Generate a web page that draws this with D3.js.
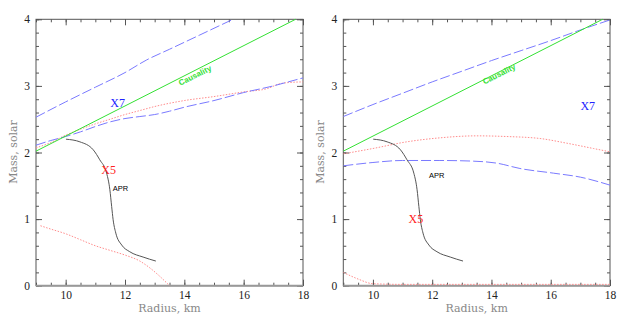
<!DOCTYPE html>
<html>
<head>
<meta charset="utf-8">
<script src="https://cdn.jsdelivr.net/npm/d3@7"></script>
<style>
  body { margin: 0; background: #fff; }
  svg { display: block; }
</style>
</head>
<body>
<div class="graphics"></div>
<script>
// tick labels
var radiusTicks = [10, 12, 14, 16, 18];
var massTicks = [0, 1, 2, 3, 4];

// curves shared by both panels  [radius km, mass solar]
var causality = [[9, 2.02], [17.75, 4.0]];
var apr = [[10.01, 2.2], [10.48, 2.16], [10.93, 2.04], [11.15, 1.89], [11.38, 1.69],
           [11.49, 1.44], [11.55, 1.19], [11.6, 0.99], [11.69, 0.79], [11.89, 0.61],
           [12.16, 0.51], [12.61, 0.43], [13.04, 0.37]];

// left panel
var leftBlueUpper = [[9, 2.53], [10, 2.76], [11, 2.98], [12, 3.2], [12.73, 3.39],
                     [13.5, 3.55], [14.5, 3.76], [15.64, 4.0]];
var leftBlueLower = [[9, 2.11], [9.5, 2.18], [10, 2.24], [10.5, 2.31], [11, 2.39], [11.5, 2.46],
                     [12, 2.51], [12.5, 2.54], [13, 2.57], [13.5, 2.62], [14, 2.68], [15, 2.78],
                     [16, 2.9], [17, 3.0], [17.5, 3.06], [18, 3.12]];
var leftRedUpper = [[9, 2.07], [9.5, 2.15], [10, 2.26], [10.5, 2.35], [11, 2.43], [11.5, 2.5],
                    [12, 2.57], [12.5, 2.63], [13, 2.69], [14, 2.78], [15, 2.84], [16, 2.91],
                    [16.8, 2.96], [17.2, 3.03], [17.5, 3.05], [18, 3.06]];
var leftRedLower = [[9.15, 0.9], [9.5, 0.85], [10, 0.78], [10.5, 0.69], [11, 0.6], [11.5, 0.53],
                    [12, 0.46], [12.5, 0.37], [12.8, 0.28], [13.1, 0.17], [13.5, 0]];

// right panel
var rightBlueUpper = [[9, 2.54], [10, 2.72], [11, 2.89], [12, 3.06], [13, 3.22], [14, 3.38],
                      [15, 3.53], [16, 3.68], [17, 3.84], [18, 3.99]];
var rightBlueLower = [[9, 1.8], [10, 1.85], [11, 1.88], [12.26, 1.88], [13.39, 1.87], [14.18, 1.84],
                      [14.96, 1.76], [16.09, 1.69], [17, 1.63], [18, 1.51]];
var rightRedUpper = [[9, 1.98], [10, 2.06], [11.14, 2.16], [12.26, 2.22], [13.5, 2.25], [14.51, 2.24],
                     [15.64, 2.21], [16.54, 2.14], [17.44, 2.06], [18, 2.01]];
var rightRedLower = [[9, 0.2], [9.5, 0.1], [10, 0.03], [11, 0.02], [12, 0.02], [14, 0.02],
                     [16, 0.02], [18, 0.02]];

var W = 629, H = 322;
var svg = d3.select('.graphics').append('svg')
    .attr('width', W).attr('height', H);

function panel(id, left, right, curves, labels){
    var top = 19.3, bottom = 285.7;
    var x = d3.scaleLinear().domain([9, 18]).range([left, right]);
    var y = d3.scaleLinear().domain([0, 4]).range([bottom, top]);
    var g = svg.append('g').attr('class', id);

    // minor ticks
    var minorX = d3.range(9, 18.01, 0.5), minorY = d3.range(0, 4.01, 0.2);
    function style(a){
        a.select('.domain').remove();
        a.selectAll('line').attr('stroke', '#555');
        a.selectAll('text').attr('font-family', 'Liberation Serif, serif')
            .attr('font-size', 11.5).attr('fill', '#222');
    }
    var fmt = function(d){ return d; };
    g.append('g').attr('transform', 'translate(0,' + bottom + ')')
        .call(d3.axisBottom(x).tickValues(minorX).tickSize(-3).tickFormat('')).call(style);
    g.append('g').attr('transform', 'translate(0,' + top + ')')
        .call(d3.axisTop(x).tickValues(minorX).tickSize(-3).tickFormat('')).call(style);
    g.append('g').attr('transform', 'translate(' + left + ',0)')
        .call(d3.axisLeft(y).tickValues(minorY).tickSize(-3).tickFormat('')).call(style);
    g.append('g').attr('transform', 'translate(' + right + ',0)')
        .call(d3.axisRight(y).tickValues(minorY).tickSize(-3).tickFormat('')).call(style);

    // major ticks with labels
    g.append('g').attr('transform', 'translate(0,' + bottom + ')')
        .call(d3.axisBottom(x).tickValues(radiusTicks).tickSize(-6).tickPadding(5).tickFormat(fmt)).call(style);
    g.append('g').attr('transform', 'translate(0,' + top + ')')
        .call(d3.axisTop(x).tickValues(radiusTicks).tickSize(-6).tickFormat('')).call(style);
    g.append('g').attr('transform', 'translate(' + left + ',0)')
        .call(d3.axisLeft(y).tickValues(massTicks).tickSize(-6).tickPadding(6).tickFormat(fmt)).call(style);
    g.append('g').attr('transform', 'translate(' + right + ',0)')
        .call(d3.axisRight(y).tickValues(massTicks).tickSize(-6).tickFormat('')).call(style);

    // frame
    g.append('rect').attr('x', left).attr('y', top)
        .attr('width', right - left).attr('height', bottom - top)
        .attr('fill', 'none').attr('stroke', '#555').attr('stroke-width', 1);
    g.append('line').attr('x1', left).attr('x2', right).attr('y1', bottom).attr('y2', bottom)
        .attr('stroke', '#999').attr('stroke-width', 2);

    // axis titles
    g.append('text').attr('x', (left + right) / 2).attr('y', 312)
        .attr('text-anchor', 'middle').attr('font-family', 'DejaVu Serif, serif')
        .attr('font-size', 11).attr('fill', '#888').text('Radius, km');
    g.append('text').attr('transform', 'translate(' + (left - 19) + ',152) rotate(-90)')
        .attr('text-anchor', 'middle').attr('font-family', 'DejaVu Serif, serif')
        .attr('font-size', 11).attr('fill', '#888').text('Mass, solar');

    // curves
    g.append('clipPath').attr('id', 'clip-' + id).append('rect')
        .attr('x', left).attr('y', top - 1).attr('width', right - left).attr('height', bottom - top + 2);
    var line = d3.line().x(function(d){ return x(d[0]); }).y(function(d){ return y(d[1]); })
        .curve(d3.curveMonotoneX);
    var cg = g.append('g').attr('clip-path', 'url(#clip-' + id + ')');
    curves.forEach(function(c){
        cg.append('path').attr('d', line(c.data)).attr('fill', 'none')
            .attr('stroke', c.color).attr('stroke-width', 1)
            .attr('stroke-dasharray', c.dash || null);
    });

    // labels
    labels.forEach(function(l){
        var t = g.append('text').attr('text-anchor', 'middle')
            .attr('font-family', l.font).attr('font-size', l.size)
            .attr('font-weight', l.weight || 'normal').attr('fill', l.color).text(l.text);
        if (l.rotate) {
            t.attr('transform', 'translate(' + x(l.r) + ',' + y(l.m) + ') rotate(' + l.rotate + ')');
        } else {
            t.attr('x', x(l.r)).attr('y', y(l.m));
        }
    });
}

var blue = '#7a7aff', red = '#ff8c8c', green = '#33e033', black = '#555';
var serif = 'Liberation Serif, serif', sans = 'Liberation Sans, Arial, sans-serif';

panel('left', 36, 303, [
    {data: leftRedUpper, color: red, dash: '1.5,1.5'},
    {data: leftRedLower, color: red, dash: '1.5,1.5'},
    {data: leftBlueUpper, color: blue, dash: '10,3'},
    {data: leftBlueLower, color: blue, dash: '10,3'},
    {data: causality, color: green},
    {data: apr, color: black}
], [
    {text: 'X7', r: 11.75, m: 2.68, color: '#2222ff', font: serif, size: 12},
    {text: 'X5', r: 11.45, m: 1.68, color: '#ff2222', font: serif, size: 12},
    {text: 'APR', r: 11.85, m: 1.42, color: '#000', font: sans, size: 7.5},
    {text: 'Causality', r: 14.4, m: 3.12, color: green, font: sans, size: 8, weight: 'bold', rotate: -26.5}
]);

panel('right', 343.3, 610, [
    {data: rightRedUpper, color: red, dash: '1.5,1.5'},
    {data: rightRedLower, color: red, dash: '1.5,1.5'},
    {data: rightBlueUpper, color: blue, dash: '10,3'},
    {data: rightBlueLower, color: blue, dash: '10,3'},
    {data: causality, color: green},
    {data: apr, color: black}
], [
    {text: 'X7', r: 17.25, m: 2.64, color: '#2222ff', font: serif, size: 12},
    {text: 'X5', r: 11.45, m: 0.94, color: '#ff2222', font: serif, size: 12},
    {text: 'APR', r: 12.15, m: 1.62, color: '#000', font: sans, size: 7.5},
    {text: 'Causality', r: 14.3, m: 3.14, color: green, font: sans, size: 8, weight: 'bold', rotate: -26.5}
]);
</script>
</body>
</html>
